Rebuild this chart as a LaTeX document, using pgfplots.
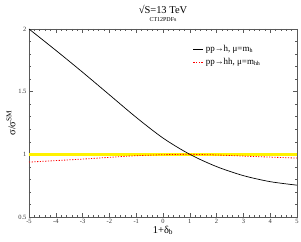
\documentclass[border=0pt]{standalone}
\usepackage{fontspec}
\setmainfont{Liberation Serif}
\usepackage{pgfplots}
\pgfplotsset{compat=1.18}
\begin{document}
\begin{tikzpicture}[x=1bp,y=1bp]
\useasboundingbox (-29bp,-25bp) rectangle (272bp,217bp);
\begin{axis}[
  at={(0,0)}, anchor=south west,
  scale only axis, width=268bp, height=188bp,
  xmin=-5, xmax=5, ymin=0.5, ymax=2,
  xtick={-5,-4,...,5}, ytick={0.5,1,1.5,2},
  yticklabels={0.5,1,1.5,2},
  minor x tick num=4, minor y tick num=4,
  tick align=inside, ticks=both,
  major tick length=4bp, minor tick length=2bp,
  axis line style={gray!70!black, line width=0.6bp},
  every tick/.style={gray!70!black, line width=0.5bp},
  tick label style={font=\fontsize{6.5}{7}\selectfont, text=gray!40!black},
  /pgf/number format/assume math mode=true,
  xticklabel style={yshift=1bp},
  yticklabel style={xshift=1bp},
  xlabel={1+δ\textsubscript{b}},
  ylabel={σ/σ\textsuperscript{SM}},
  label style={font=\fontsize{10.5}{12}\selectfont},
  xlabel style={yshift=5bp},
  ylabel style={yshift=-4bp},
  legend style={draw=none, fill=none, at={(0.6,0.935)}, anchor=north west,
    font=\fontsize{9}{10}\selectfont, row sep=1bp,
    legend cell align=left},
  legend image code/.code={\draw[#1] (0bp,0bp) -- (10bp,0bp);},
]
\addplot[yellow, line width=3bp, forget plot] coordinates {(-5,1) (5,1)};
\addplot[black, line width=0.7bp, smooth] coordinates {
 (-5,2.0) (-4,1.83) (-3,1.655) (-2,1.475) (-1,1.295) (0,1.13) (1,1.0)
 (2,0.902) (3,0.83) (4,0.782) (5,0.754)};
\addlegendentry{pp→h, μ=m\textsubscript{h}}
\addplot[red, line width=0.8bp, dash pattern=on 1.2bp off 1.5bp, smooth] coordinates {
 (-5,0.938) (-4,0.95) (-3,0.962) (-2,0.976) (-1,0.989) (0,0.997) (1,1.0)
 (2,0.995) (3,0.986) (4,0.978) (5,0.970)};
\addlegendentry{pp→hh, μ=m\textsubscript{hh}}
\end{axis}
\node[font=\fontsize{10.5}{12}\selectfont] at (134bp,208bp) {√S=13 TeV};
\node[font=\fontsize{6}{7}\selectfont] at (134bp,197bp) {CT12PDFs};
\end{tikzpicture}
\end{document}
